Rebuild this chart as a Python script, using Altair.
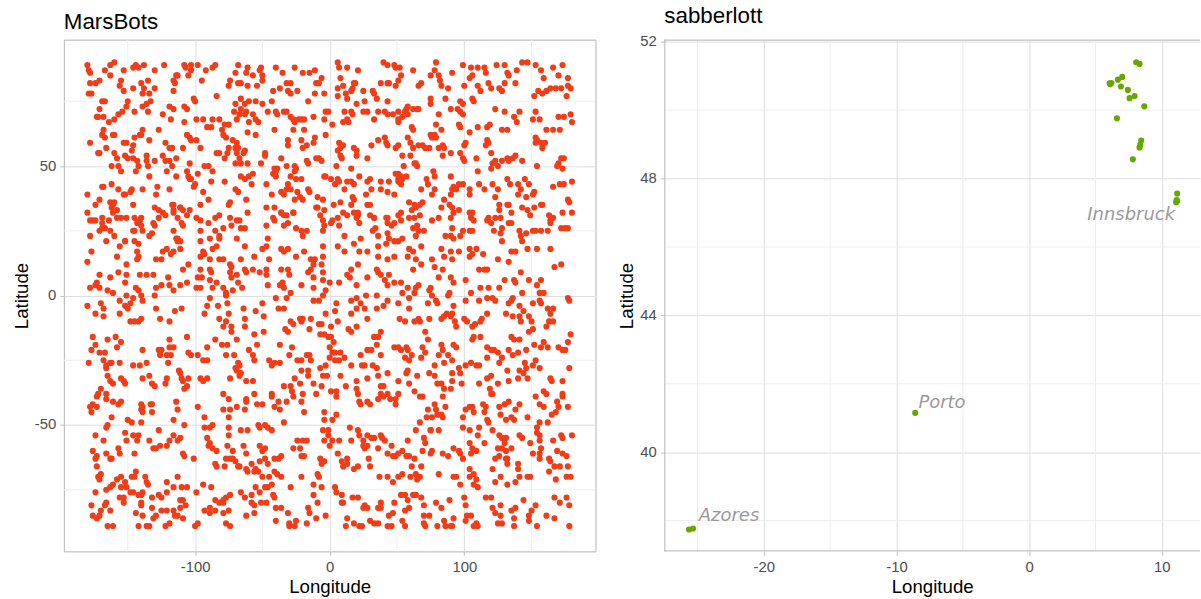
import altair as alt
import pandas as pd

FONT = "Liberation Sans"

# ---------------- MarsBots: (longitude, latitude), by region
mars_nw = [(-180,89),(-179,87),(-178,86),(-167,87),(-163,89),(-160,90),(-153,87),(-146,88),(-144,89),(-142,88),(-138,89),(-130,87),(-123,89),(-108,89),(-107,88),(-103,89),(-98,89),(-92,87),(-87,88),(-85,89),(-68,89),
(-178,82),(-174,82),(-171,83),(-163,85),(-155,83),(-156,81),(-153,79),(-146,80),(-140,82),(-138,80),(-139,78),(-135,83),(-134,78),(-130,80),(-116,83),(-115,82),(-114,85),(-113,85),(-116,79),(-105,85),(-103,87),(-95,83),(-84,77),(-74,83),(-75,81),(-68,82),(-70,86),(-179,78),(-177,78),(-169,75),(-167,75),
(-171,72),(-173,69),(-172,69),(-168,69),(-164,67),(-160,68),(-157,70),(-154,71),(-151,73),(-150,75),(-145,71),(-139,73),(-136,74),(-133,75),(-135,71),(-124,70),(-119,73),(-116,72),(-118,68),(-108,73),(-106,72),(-108,67),(-101,76),(-100,75),(-99,68),(-94,68),(-87,68),(-82,68),(-78,66),(-75,66),(-69,68),(-71,71),(-70,74),(-67,70),
(-168,64),(-169,62),(-167,61),(-178,59),(-171,55),(-172,55),(-166,57),(-161,62),(-160,62),(-153,59),(-151,59),(-145,61),(-146,58),(-147,56),(-141,62),(-140,62),(-139,64),(-134,60),(-127,64),(-122,59),(-119,57),(-117,57),(-109,57),(-106,62),(-104,61),(-103,60),(-99,60),(-96,57),(-91,65),(-88,65),(-80,64),(-79,62),(-77,61),(-75,57),(-72,60),(-69,59),(-70,57),(-68,57),(-84,55),(-82,55),(-76,55),
(-160,55),(-158,53),(-152,54),(-150,53),(-146,53),(-143,52),(-142,50),(-136,54),(-136,52),(-135,50),(-130,52),(-124,54),(-122,52),(-119,52),(-117,50),(-114,53),(-104,51),(-162,50),(-157,50),(-155,48),(-144,48),(-134,46),(-121,48),(-114,46),(-106,48),(-104,45),(-98,47),(-93,50),(-90,50),(-87,48),(-78,53),(-70,51),(-67,53),(-69,55),
(-180,39),(-169,42),(-168,42),(-162,43),(-157,41),(-153,39),(-152,39),(-147,41),(-148,40),(-139,41),(-129,39),(-128,42),(-119,41),(-105,46),(-103,45),(-101,42),(-100,43),(-94,40),(-88,44),(-78,44),(-90,37),(-96,35),(-174,35),(-171,37),(-163,36),(-161,35),(-160,36),(-158,33),(-146,35),(-130,34),(-116,35),(-117,35),(-111,34),(-74,36),(-70,41),(-68,40),(-75,35),
(-180,32),(-178,29),(-176,29),(-174,29),(-169,30),(-169,28),(-164,29),(-161,32),(-162,34),(-158,30),(-155,30),(-151,30),(-145,30),(-143,28),(-141,29),(-140,30),(-145,25),(-140,27),(-139,25),(-132,24),(-131,28),(-127,33),(-127,30),(-124,32),(-122,31),(-116,33),(-116,32),(-111,34),(-113,30),(-109,33),(-104,33),(-106,31),(-110,28),(-109,27),(-99,30),(-96,29),(-90,28),(-85,30),(-82,31),(-74,30),(-69,29),(-67,29),(-178,23),(-171,25),(-169,26),(-167,26),(-166,21),(-163,25),(-160,23),(-152,21),(-146,25),(-130,27),(-116,25),(-113,22),(-111,21),(-96,21),(-96,25),(-89,22),(-85,25),(-82,22),(-79,26),(-73,27),(-69,22),
(-177,17),(-158,15),(-156,19),(-152,21),(-142,20),(-143,17),(-142,15),(-143,14),(-145,21),(-134,23),(-129,14),(-125,14),(-124,17),(-121,18),(-118,16),(-114,22),(-116,17),(-111,18),(-113,21),(-109,10),(-105,12),(-96,15),(-94,17),(-93,16),(-87,18),(-84,19),(-82,23),(-89,14),(-82,14),(-79,14),(-74,12),(-73,11),(-89,10),(-88,9),(-96,10),(-95,7),(-180,13),(-171,8),(-163,7),(-157,9),(-151,8),(-151,12),(-141,8),(-136,8),(-131,8),(-120,7),(-119,4),(-116,2),(-111,4),(-106,5),(-98,7),(-96,3),(-89,6),(-84,5),(-79,3),(-74,9),(-73,7),(-69,8),(-68,5),(-77,1),(-72,2),(-178,3),(-174,4),(-173,5),(-171,3),(-165,2),(-161,1),(-152,5),(-144,3),(-142,2),(-129,3),(-125,4),(-99,3),(-87,3)]

mars_n = [(-61,88),(-62,86),(-57,85),(-52,87),(-51,88),(-50,85),(-50,83),(-40,88),(-35,86),(-26,88),(-20,86),(-15,86),(-11,87),(-6,84),(-10,82),(-8,82),(6,90),(7,88),(13,88),(21,87),(18,82),(8,84),(40,90),(43,89),(48,89),(52,88),(49,88),(62,87),(53,85),(51,83),(44,82),(38,82),(-54,81),(-61,81),(-66,82),
(-42,79),(-37,80),(-32,82),(-29,82),(-31,79),(-29,78),(-24,79),(-16,75),(-11,78),(-4,78),(6,80),(6,77),(10,81),(12,78),(13,76),(16,79),(17,80),(19,82),(20,74),(26,75),(25,79),(32,79),(33,78),(35,76),(43,75),(43,82),(49,81),(-66,76),(-63,74),(-60,75),(-55,75),(-50,74),(-43,75),(62,72),(65,72),(58,73),(57,72),(51,71),
(-66,72),(-62,71),(-63,70),(-57,70),(-55,68),(-53,67),(-60,67),(-61,63),(-55,62),(-46,71),(-40,71),(-39,70),(-34,71),(-32,71),(-29,69),(-27,68),(-26,67),(-23,68),(-21,68),(-19,68),(-12,69),(-3,71),(-1,71),(-4,68),(2,66),(11,71),(16,71),(17,70),(13,68),(14,67),(10,67),(25,71),(28,71),(33,68),(36,71),(41,71),(43,70),(47,70),(51,68),(54,69),(58,70),(56,71),(61,65),(62,64),(51,67),(-41,64),(-27,64),(-19,64),(-3,62),
(-63,56),(-64,55),(-48,55),(-48,54),(-31,60),(-31,58),(-21,60),(-20,57),(-17,58),(-12,59),(-11,61),(-10,53),(-8,53),(-6,52),(-17,52),(-16,51),(-36,53),(-32,50),(-26,50),(-25,49),(-41,49),(-40,48),(-41,47),(-51,51),(-66,51),(-61,51),(7,59),(8,57),(10,58),(6,56),(8,54),(9,53),(18,57),(20,56),(20,54),(28,53),(31,58),(36,60),(41,61),(42,59),(43,58),(49,57),(51,58),(54,54),(58,61),(60,59),(62,57),(60,54),(63,51),(65,50),(55,50),(49,47),(51,45),(53,46),(-4,46),(5,50),(16,49),
(-66,46),(-63,45),(-60,46),(-57,47),(-58,43),(-62,37),(-61,32),(-47,43),(-43,39),(-42,47),(-40,46),(-39,49),(-36,40),(-34,39),(-32,41),(-31,43),(-29,46),(-29,41),(-26,48),(-25,45),(-21,45),(-24,40),(-22,38),(-20,37),(-26,37),(-16,41),(-15,40),(-5,37),(-9,38),(-3,46),(1,45),(4,43),(6,45),(7,44),(11,41),(13,44),(16,44),(18,43),(22,46),(17,38),(18,37),(8,36),(27,39),(28,44),(30,45),(31,41),(38,44),(38,41),(43,40),(44,44),(48,39),(51,44),(53,43),(54,45),(57,46),(51,47),(59,36),(63,35),(64,34),(64,51),(-47,34),(-41,34),(-36,32),(-34,31),(-27,32),(-10,34),(-4,33),(3,35),(16,35),(21,32),(30,35),(33,30),(43,30),(53,32),(61,33),
(-66,26),(-63,26),(-47,27),(-46,22),(-47,19),(-50,18),(-63,19),(-56,15),(-42,30),(-41,29),(-36,32),(-32,31),(-27,32),(-31,28),(-34,27),(-25,26),(-21,25),(-20,23),(-17,25),(-9,34),(-7,31),(-5,29),(-4,27),(-5,25),(-5,19),(1,28),(2,29),(6,30),(7,27),(11,23),(10,32),(13,31),(18,32),(21,31),(22,28),(20,30),(28,35),(30,31),(33,30),(34,26),(32,25),(36,23),(42,30),(43,28),(48,28),(46,27),(43,24),(51,31),(53,29),(63,30),(65,27),(59,30),(62,26),(-36,18),(-34,17),(-31,18),(-25,15),(-19,17),(-14,14),(-11,14),(-5,15),(6,19),(11,17),(18,20),(22,17),(23,22),(28,17),(36,19),(36,15),(42,20),(44,22),(48,21),(51,21),(54,22),(59,18),(62,17),(64,23),(48,15),(43,14),(58,15),(64,14),
(-66,14),(-63,10),(-62,9),(-65,3),(-57,10),(-52,9),(-47,10),(-47,8),(-46,4),(-45,14),(-36,10),(-37,4),(-35,5),(-31,10),(-30,8),(-34,3),(-29,1),(-21,4),(-16,9),(-14,10),(-12,12),(-12,7),(-12,3),(-6,12),(-5,9),(-5,6),(0,5),(-3,2),(7,5),(13,8),(15,7),(20,4),(16,10),(21,12),(28,7),(35,10),(36,9),(38,8),(41,6),(43,4),(44,8),(48,5),(53,5),(54,1),(58,3),(62,10),(64,3),(63,1)]

mars_ne = [(79,90),(78,87),(75,85),(81,85),(82,83),(83,81),(88,80),(91,86),(99,89),(105,88),(110,88),(115,88),(116,86),(100,81),(104,84),(106,85),(110,81),(112,79),(118,82),(120,80),(124,89),(130,89),(132,86),(133,85),(130,82),(126,80),(128,79),(138,82),(139,87),(143,90),(147,90),(153,89),(157,87),(159,84),(166,88),(173,89),(170,85),(177,84),(177,81),(179,80),(168,80),(172,80),(164,80),(161,79),(158,78),(155,79),(152,77),(176,77),(68,82),(66,81),
(75,76),(75,74),(86,76),(97,75),(99,74),(106,76),(107,75),(90,72),(95,72),(97,71),(99,70),(81,70),(79,66),(83,64),(96,66),(97,65),(104,63),(110,65),(117,65),(119,66),(123,72),(130,71),(137,69),(139,67),(141,71),(153,71),(151,68),(156,68),(161,64),(166,64),(170,69),(174,69),(179,70),(180,67),(171,64),(128,64),(132,64),(66,72),
(75,62),(78,62),(79,61),(76,61),(71,57),(74,57),(81,57),(84,58),(85,57),(84,54),(90,55),(97,55),(100,58),(101,59),(99,53),(100,52),(109,53),(117,60),(116,58),(118,59),(120,55),(121,51),(123,52),(125,50),(120,49),(128,52),(132,53),(136,53),(138,54),(133,52),(143,52),(153,61),(154,60),(153,59),(157,59),(160,59),(158,57),(172,53),(174,53),(170,51),(169,50),(173,49),(154,50),(66,58),(69,58),
(77,48),(78,46),(72,45),(73,43),(68,41),(76,39),(78,41),(85,37),(90,46),(91,41),(90,39),(92,42),(94,41),(96,43),(99,43),(104,41),(104,39),(111,43),(115,41),(110,48),(121,43),(125,41),(123,38),(134,43),(132,45),(140,43),(142,41),(140,39),(145,45),(148,43),(146,38),(151,39),(152,40),(158,35),(166,42),(171,43),(174,43),(180,44),(177,37),(178,36),(126,35),(132,35),(69,36),(89,35),(91,34),(96,33),(92,32),(83,34),(90,30),(81,30),(76,29),(70,25),(67,31),(67,35),
(104,32),(106,32),(105,30),(107,29),(99,25),(104,25),(106,25),(91,26),(86,23),(90,23),(92,22),(97,23),(118,30),(117,29),(120,28),(123,30),(127,30),(126,33),(133,35),(135,32),(133,28),(135,28),(128,26),(122,25),(127,24),(143,34),(147,33),(152,34),(149,31),(153,25),(157,25),(157,35),(163,31),(166,30),(164,29),(164,28),(173,32),(180,32),(172,26),(175,26),(177,26),(162,25),(141,25),(142,23),(143,21),(146,24),(151,25),(128,21),(135,17),(138,17),(147,18),(154,18),(164,18),(83,18),(85,15),(90,17),(91,14),(96,17),(104,18),(104,15),(106,16),(109,18),(114,16),(125,14),(133,13),(68,19),(66,25),
(76,14),(78,11),(84,10),(81,7),(90,7),(92,5),(101,6),(112,3),(118,3),(111,10),(115,10),(117,10),(126,3),(130,6),(137,6),(138,5),(142,9),(143,1),(148,6),(154,4),(157,6),(156,1),(159,1),(167,11),(172,12),(75,3),(74,2),(68,12),(66,4),(89,1),(105,1)]

mars_sw = [(-170,-3),(-168,-5),(-180,-4),(-174,-7),(-168,-8),(-156,-2),(-156,-7),(-151,0),(-152,-4),(-148,-3),(-146,-1),(-150,-5),(-139,-2),(-140,0),(-130,0),(-129,-5),(-126,-9),(-119,-10),(-148,-10),(-145,-10),(-142,-10),(-140,-9),(-115,-6),(-110,-5),(-89,-1),(-91,-4),(-93,-7),(-83,-4),(-77,0),(-76,-3),(-75,-7),(-82,-9),(-77,-10),(-79,-12),(-73,-12),(-73,-14),
(-176,-16),(-174,-19),(-177,-21),(-171,-22),(-167,-22),(-165,-17),(-159,-16),(-158,-20),(-155,-18),(-168,-25),(-166,-27),(-166,-28),(-163,-26),(-162,-26),(-156,-26),(-179,-26),(-139,-21),(-127,-21),(-125,-21),(-126,-23),(-121,-23),(-119,-17),(-116,-20),(-119,-20),(-118,-23),(-120,-26),(-106,-16),(-105,-22),(-103,-23),(-98,-23),(-94,-25),(-91,-25),(-91,-20),(-85,-17),(-80,-19),(-76,-19),(-77,-23),(-71,-23),(-69,-17),(-70,-28),(-68,-26),(-146,-27),(-141,-27),(-136,-26),
(-165,-31),(-163,-33),(-161,-34),(-155,-32),(-153,-33),(-152,-34),(-170,-36),(-172,-38),(-173,-39),(-166,-38),(-166,-40),(-161,-41),(-157,-42),(-155,-41),(-176,-42),(-178,-43),(-177,-45),(-173,-43),(-139,-32),(-134,-31),(-132,-34),(-130,-35),(-122,-34),(-121,-32),(-112,-29),(-111,-30),(-110,-32),(-109,-33),(-105,-32),(-106,-35),(-108,-36),(-96,-32),(-94,-33),(-91,-32),(-79,-38),(-75,-40),(-74,-32),(-67,-31),(-69,-29),(-67,-27),(-140,-42),(-139,-43),(-133,-42),(-132,-45),(-114,-41),(-113,-44),(-98,-43),(-79,-44),(-74,-44),(-69,-43),
(-162,-47),(-166,-51),(-165,-50),(-168,-56),(-174,-54),(-176,-60),(-173,-62),(-174,-63),(-166,-61),(-162,-63),(-157,-59),(-156,-61),(-152,-53),(-151,-56),(-150,-48),(-147,-49),(-146,-54),(-142,-54),(-143,-56),(-145,-61),(-140,-44),(-139,-45),(-140,-49),(-134,-56),(-132,-42),(-127,-52),(-131,-59),(-129,-59),(-126,-58),(-121,-58),(-119,-56),(-116,-48),(-113,-56),(-111,-55),(-108,-50),(-109,-61),(-101,-63),(-116,-54),(-108,-62),(-93,-47),(-87,-50),(-89,-51),(-93,-51),(-91,-55),(-89,-57),(-87,-59),(-84,-60),(-90,-58),(-75,-47),(-75,-51),(-75,-54),(-72,-60),(-76,-58),(-77,-63),(-74,-63),(-72,-63),(-85,-65),(-84,-66),(-78,-66),(-67,-66),(-68,-66),(-70,-64),
(-173,-66),(-172,-70),(-171,-71),(-174,-76),(-166,-75),(-163,-74),(-161,-73),(-155,-70),(-152,-72),(-155,-74),(-151,-74),(-148,-76),(-147,-70),(-145,-70),(-144,-68),(-137,-70),(-136,-72),(-135,-73),(-139,-76),(-153,-78),(-153,-80),(-156,-78),(-146,-76),(-142,-77),(-140,-77),(-140,-80),(-132,-78),(-127,-77),(-125,-78),(-121,-72),(-116,-74),(-113,-70),(-110,-74),(-106,-74),(-111,-79),(-109,-79),(-107,-81),(-121,-76),(-99,-76),(-94,-73),(-88,-74),(-85,-79),(-82,-80),(-79,-79),(-77,-78),(-74,-77),(-166,-80),(-167,-81),(-177,-81),(-176,-85),(-173,-86),(-171,-85),(-170,-83),(-163,-83),(-170,-69),(-163,-63),(-158,-71),
(-165,-89),(-161,-89),(-144,-84),(-139,-85),(-142,-89),(-136,-89),(-134,-89),(-131,-86),(-129,-85),(-125,-83),(-121,-83),(-116,-83),(-115,-85),(-113,-85),(-111,-82),(-109,-86),(-122,-89),(-119,-88),(-100,-89),(-98,-88),(-93,-83),(-89,-82),(-85,-83),(-79,-80),(-75,-83),(-74,-89),(-77,-88),(-132,-82),(-140,-81),(-89,-84),(-79,-84)]

mars_s = [(-64,-5),(-63,-9),(-63,-12),(-55,-6),(-50,-3),(-49,-8),(-40,-1),(-38,-5),(-32,-1),(-34,-5),(-29,-10),(-27,-11),(-22,-9),(-20,-9),(-21,-10),(-15,-13),(-14,-9),(-12,-2),(-8,-2),(-5,0),(-8,-11),(-6,-11),(-3,-7),(1,-12),(4,-6),(5,-3),(6,-10),(16,-2),(20,-1),(16,-7),(20,-5),(23,-3),(26,-5),(28,-9),(20,-12),(14,-13),(16,-14),(35,-5),(40,-4),(43,-2),(51,-3),(52,-9),(56,-10),(59,-1),(59,-5),(63,-10),(66,-9),(27,0),(35,0),
(-56,-15),(-49,-14),(-54,-19),(-60,-21),(-57,-23),(-56,-25),(-37,-19),(-33,-13),(-31,-14),(-28,-20),(-30,-23),(-17,-23),(-15,-23),(-7,-15),(-4,-15),(-1,-16),(1,-16),(0,-20),(3,-18),(0,-24),(2,-22),(4,-22),(8,-22),(11,-24),(7,-25),(23,-23),(28,-21),(31,-21),(33,-16),(36,-16),(38,-14),(35,-19),(38,-23),(48,-20),(51,-20),(53,-21),(57,-20),(58,-21),(61,-23),(56,-24),(59,-25),(-41,-26),(-43,-27),(-37,-26),(-45,-25),(-24,-25),(-21,-25),(-14,-25),(-7,-28),(-3,-27),(4,-25),
(-66,-30),(-62,-33),(-57,-33),(-56,-38),(-62,-40),(-62,-41),(-63,-44),(-54,-42),(-50,-42),(-43,-38),(-43,-39),(-41,-43),(-38,-41),(-37,-44),(-32,-41),(-34,-35),(-29,-35),(-28,-37),(-27,-39),(-26,-32),(-21,-29),(-22,-34),(-20,-38),(-21,-41),(-16,-29),(-16,-31),(-12,-34),(-10,-38),(-6,-35),(-5,-31),(-2,-31),(1,-37),(5,-37),(5,-39),(8,-31),(12,-35),(16,-27),(20,-33),(20,-36),(21,-38),(22,-41),(23,-42),(24,-27),(28,-32),(28,-41),(30,-42),(26,-27),(32,-27),(35,-28),(36,-31),(38,-35),(40,-35),(43,-30),(38,-38),(36,-40),(40,-39),(43,-38),(45,-40),(49,-40),(51,-38),(51,-33),(49,-42),(57,-30),(58,-29),(59,-34),(63,-37),(65,-31),(-66,-52),(-61,-52),(-53,-50),(-52,-51),(-48,-50),(-46,-51),(-43,-52),(-34,-49),(-19,-45),(-4,-45),(-4,-48),(2,-48),(5,-46),
(-64,-58),(-62,-61),(-58,-65),(-55,-67),(-52,-64),(-50,-60),(-48,-59),(-52,-58),(-48,-63),(-46,-65),(-41,-63),(-38,-63),(-36,-62),(-27,-59),(-24,-56),(-22,-59),(-21,-62),(-19,-62),(-20,-56),(-17,-56),(-6,-65),(-7,-63),(-4,-64),(-5,-52),(-1,-52),(-1,-54),(2,-56),(-4,-56),(0,-58),(7,-56),(15,-51),(16,-56),(21,-52),(22,-54),(25,-56),(25,-58),(26,-59),(28,-58),(28,-54),(29,-63),(31,-55),(33,-55),(36,-59),(38,-54),(39,-55),(41,-56),(46,-58),(43,-61),(47,-62),(49,-62),(51,-61),(54,-60),(57,-62),(59,-62),(63,-63),(64,-52),(58,-56),(6,-61),(9,-64),(10,-66),(13,-63),(13,-65),(18,-67),(21,-66),(30,-66),(37,-70),(43,-70),(47,-72),(51,-70),(54,-69),(61,-66),(64,-69),(65,-71),(60,-70),(-9,-69),(-8,-70),(-21,-70),(-12,-73),(-6,-74),(-29,-74),(-36,-70),(-39,-69),(-41,-68),(-45,-70),(-50,-70),(-53,-68),(-56,-68),(-61,-68),(-62,-67),
(-66,-76),(-63,-78),(-58,-77),(-55,-74),(-52,-76),(-48,-74),(-46,-74),(-43,-73),(-42,-77),(-41,-78),(-47,-80),(-51,-80),(-56,-81),(-58,-80),(-62,-85),(-56,-84),(-40,-82),(-40,-87),(-36,-82),(-31,-84),(-30,-88),(-30,-89),(-26,-89),(-25,-87),(-17,-88),(-16,-82),(-15,-84),(-12,-77),(-9,-80),(-10,-86),(-3,-85),(4,-74),(5,-76),(9,-77),(9,-80),(10,-80),(13,-86),(12,-89),(18,-88),(21,-78),(22,-89),(24,-89),(17,-78),(25,-82),(26,-81),(28,-82),(33,-88),(36,-88),(30,-87),(38,-82),(38,-80),(36,-82),(44,-85),(47,-84),(43,-89),(48,-80),(53,-77),(56,-77),(58,-79),(59,-82),(56,-83),(62,-77),(64,-77),(46,-89),(54,-87),(56,-89)]

mars_se = [(76,0),(73,-3),(80,-3),(79,-2),(88,0),(92,-4),(101,-2),(111,-2),(117,-1),(123,-2),(121,-1),(133,-3),(136,-1),(135,-2),(141,-4),(144,-6),(148,-8),(151,-3),(156,-2),(157,-3),(162,-5),(166,-5),(164,-7),(163,-10),(177,-1),(178,-2),(74,-9),(67,-10),(83,-9),(85,-8),(87,-7),(90,-8),(91,-7),(93,-10),(94,-12),(100,-9),(102,-10),(106,-12),(108,-11),(112,-10),(113,-9),(117,-7),(131,-7),(136,-8),(141,-8),(142,-10),(150,-10),(161,-12),(166,-10),(151,-13),(148,-14),
(71,-14),(73,-17),(69,-20),(71,-22),(81,-23),(84,-21),(83,-19),(88,-23),(92,-19),(94,-20),(91,-25),(96,-28),(97,-30),(106,-17),(107,-16),(112,-16),(117,-20),(120,-21),(122,-21),(125,-22),(117,-24),(126,-26),(128,-24),(109,-27),(111,-27),(105,-26),(101,-27),(132,-29),(135,-16),(137,-17),(141,-17),(133,-21),(136,-23),(140,-22),(141,-29),(146,-21),(145,-26),(151,-27),(153,-25),(146,-28),(152,-19),(157,-20),(159,-18),(162,-20),(170,-20),(173,-21),(175,-21),(177,-18),(179,-15),(178,-28),(156,-28),(68,-24),(78,-27),(85,-26),(91,-30),
(74,-30),(78,-31),(80,-34),(83,-34),(85,-36),(90,-36),(84,-39),(78,-42),(79,-44),(76,-47),(80,-46),(83,-46),(84,-47),(73,-44),(72,-47),(69,-39),(67,-49),(86,-43),(98,-34),(99,-47),(101,-44),(104,-43),(106,-43),(107,-45),(114,-42),(115,-45),(116,-43),(111,-34),(117,-32),(120,-31),(119,-36),(120,-38),(121,-38),(125,-34),(126,-43),(127,-46),(117,-48),(118,-49),(133,-41),(133,-33),(135,-47),(137,-48),(138,-44),(141,-42),(147,-47),(153,-39),(159,-37),(161,-38),(156,-42),(159,-43),(164,-32),(165,-33),(173,-33),(173,-38),(173,-39),(169,-41),(168,-45),(170,-43),(177,-43),(165,-46),(156,-49),(162,-49),(154,-51),(130,-42),(131,-48),(140,-32),(144,-30),(147,-32),(91,-33),(99,-51),(104,-52),(111,-51),(67,-39),(75,-52),(81,-52),
(70,-55),(75,-52),(71,-57),(76,-60),(75,-61),(69,-60),(68,-66),(84,-61),(88,-62),(92,-59),(97,-61),(99,-63),(96,-60),(104,-57),(106,-59),(109,-60),(105,-61),(110,-54),(115,-57),(121,-52),(126,-54),(128,-55),(130,-57),(131,-55),(128,-59),(126,-62),(123,-63),(125,-59),(131,-60),(131,-63),(132,-65),(132,-63),(135,-59),(141,-54),(143,-55),(140,-65),(140,-67),(149,-57),(151,-61),(154,-53),(156,-54),(156,-56),(157,-59),(156,-61),(156,-63),(163,-63),(164,-64),(167,-66),(171,-66),(166,-56),(172,-54),(173,-55),(180,-54),(169,-60),(173,-61),(176,-62),(177,-66),(179,-70),(176,-70),(163,-68),(168,-71),(149,-70),(147,-70),(141,-70),(138,-72),(132,-73),(127,-70),(123,-72),(121,-67),(109,-71),(107,-73),(110,-74),(104,-70),(107,-69),(104,-67),(94,-70),(92,-70),(97,-73),(81,-69),(67,-70),
(68,-78),(70,-81),(74,-85),(70,-88),(71,-89),(79,-80),(83,-82),(89,-79),(92,-86),(85,-87),(86,-89),(90,-89),(80,-89),(91,-89),(100,-78),(101,-81),(102,-85),(105,-85),(101,-87),(109,-88),(110,-89),(107,-89),(116,-78),(120,-78),(121,-82),(123,-84),(127,-81),(127,-85),(125,-88),(128,-88),(135,-83),(137,-86),(138,-82),(137,-89),(144,-79),(148,-85),(150,-83),(148,-87),(153,-81),(154,-89),(161,-85),(167,-86),(167,-78),(171,-80),(176,-78),(178,-81),(178,-89),(70,-85)]

# ---------------- sabberlott
sab_lon = [8.07, 8.32, 6.07, 6.20, 6.12, 6.69, 7.02, 6.92, 7.44, 7.57, 7.95, 8.68, 6.62,
           8.45, 8.38, 8.32, 7.82, 11.16, 11.16, 11.08, 11.12, -8.59, -25.64, -25.34]
sab_lat = [51.40, 51.35, 50.78, 50.79, 50.76, 50.89, 50.97, 50.69, 50.59, 50.35, 50.41, 50.11, 49.76,
           49.11, 48.99, 48.91, 48.56, 47.56, 47.34, 47.31, 47.37, 41.15, 37.74, 37.77]

label_names = ["Azores", "Porto", "Innsbruck"]
label_lon = [-24.9, -8.35, 11.0]
label_lat = [38.0, 41.3, 46.8]
label_side = ["left", "left", "right"]

# ---------------- axes
left_x_ticks = [-100, 0, 100]
left_y_ticks = [-50, 0, 50]
left_x_minor = [-150, -50, 50, 150]
left_y_minor = [-75, -25, 25, 75]
right_x_ticks = [-20, -10, 0, 10]
right_y_ticks = [40, 44, 48, 52]
right_x_minor = [-25, -15, -5, 5]
right_y_minor = [38, 42, 46, 50]

LW, LH = 533, 513
RW, RH = 537, 513
BORDER = "#B3B3B3"
GRID = "#DEDEDE"
MINOR = "#EEEEEE"


def axis(values, title):
    return alt.Axis(values=values, title=title, grid=True, gridColor=GRID, gridWidth=1,
                    domain=False, tickColor=BORDER, tickSize=4, tickWidth=0.8,
                    labelExpr="'' + datum.value", labelFont=FONT, labelFontSize=14.9,
                    labelColor="#4D4D4D", labelPadding=4, titleFont=FONT, titleFontSize=18.7,
                    titleFontWeight="normal", titleColor="black", titlePadding=3)


def panel(df, color, xdom, ydom, xt, yt, xm, ym):
    X = alt.X("lon:Q", scale=alt.Scale(domain=xdom, nice=False, zero=False), axis=axis(xt, "Longitude"))
    Y = alt.Y("lat:Q", scale=alt.Scale(domain=ydom, nice=False, zero=False), axis=axis(yt, "Latitude"))
    mx = alt.Chart(pd.DataFrame({"lon": xm})).mark_rule(color=MINOR, strokeWidth=1).encode(x=X)
    my = alt.Chart(pd.DataFrame({"lat": ym})).mark_rule(color=MINOR, strokeWidth=1).encode(y=Y)
    pts = alt.Chart(df).mark_circle(size=38, opacity=1, color=color).encode(x=X, y=Y)
    return [mx, my, pts], X, Y


mars_all = mars_nw + mars_n + mars_ne + mars_sw + mars_s + mars_se
mars_df = pd.DataFrame(mars_all, columns=["lon", "lat"])
sab_df = pd.DataFrame({"lon": sab_lon, "lat": sab_lat})
lab_df = pd.DataFrame({"lon": label_lon, "lat": label_lat, "name": label_names, "side": label_side})

title_kw = dict(anchor="start", frame="group", font=FONT, fontSize=22.4, fontWeight="normal",
                color="black", offset=6)

lay_l, _, _ = panel(mars_df, "#F23C17", [-197.5, 197.5], [-98.8, 98.8],
                    left_x_ticks, left_y_ticks, left_x_minor, left_y_minor)
left = alt.layer(*lay_l).properties(
    width=LW, height=LH, title=alt.Title("MarsBots", **title_kw),
    view=alt.ViewBackground(stroke=BORDER, strokeWidth=1))

lay_r, XR, YR = panel(sab_df, "#66A800", [-27.5, 12.88], [37.1, 52.06],
                      right_x_ticks, right_y_ticks, right_x_minor, right_y_minor)
one = pd.DataFrame({"k": [0]})
b_top = alt.Chart(one).mark_rule(color=BORDER, strokeWidth=1).encode(
    x=alt.value(0), x2=alt.value(RW), y=alt.value(0.5))
b_bot = alt.Chart(one).mark_rule(color=BORDER, strokeWidth=1).encode(
    x=alt.value(0), x2=alt.value(RW), y=alt.value(RH - 0.5))
b_left = alt.Chart(one).mark_rule(color=BORDER, strokeWidth=1).encode(
    x=alt.value(0.5), y=alt.value(0), y2=alt.value(RH))
txt_kw = dict(font="DejaVu Sans", fontStyle="italic", fontSize=18, color="#9A9A9A", baseline="alphabetic")
t_left = alt.Chart(lab_df).transform_filter("datum.side == 'left'").mark_text(
    align="left", **txt_kw).encode(x=XR, y=YR, text="name:N")
t_right = alt.Chart(lab_df).transform_filter("datum.side == 'right'").mark_text(
    align="right", **txt_kw).encode(x=XR, y=YR, text="name:N")
right = alt.layer(*lay_r, t_left, t_right, b_top, b_bot, b_left).properties(
    width=RW, height=RH, title=alt.Title("sabberlott", **title_kw),
    view=alt.ViewBackground(stroke="transparent"))

chart = alt.hconcat(left, right, spacing=20).properties(
    padding={"left": 11, "top": 4, "right": 0, "bottom": 0}
).configure(background="white")

chart.save("out.html", embed_options={"renderer": "svg", "actions": False})
